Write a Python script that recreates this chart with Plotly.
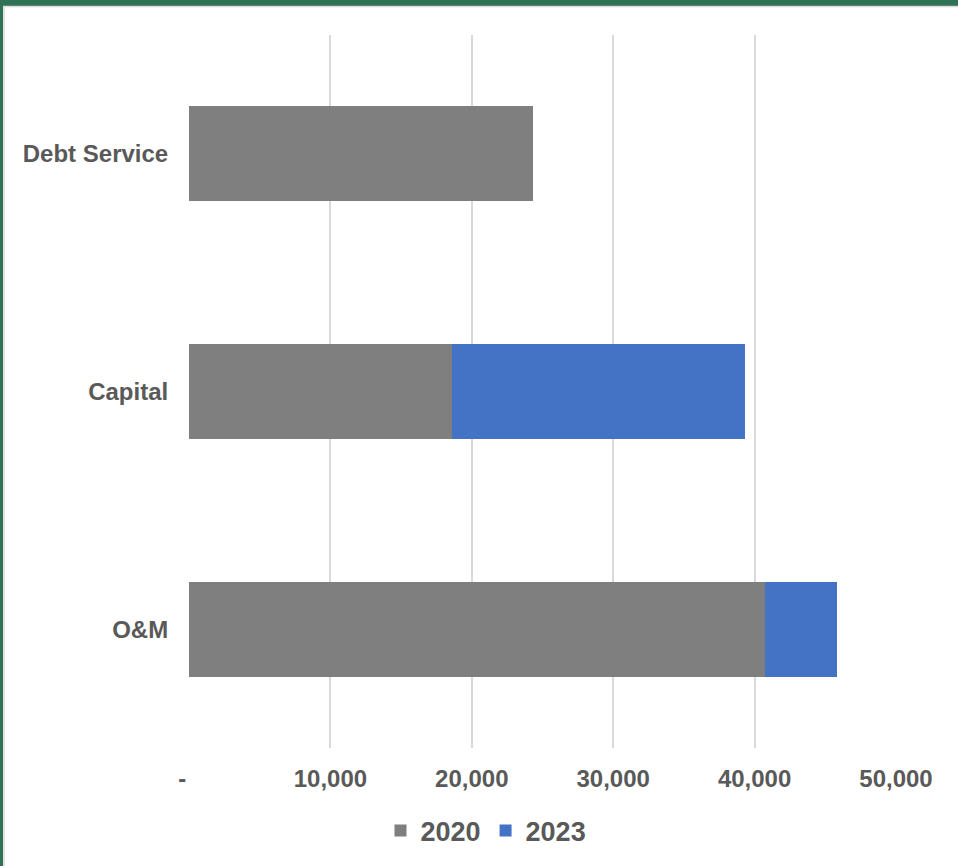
import plotly.graph_objects as go

categories = ['Debt Service', 'Capital', 'O&M']
values_2020 = [24300, 18600, 40750]
values_2023 = [0, 20750, 5080]
tick_vals = [0, 10000, 20000, 30000, 40000, 50000]
tick_text = ['-\u00a0\u00a0', '10,000', '20,000', '30,000', '40,000', '50,000']

W, H = 958, 866
L, R, T, B = 189, 62, 35, 117
TEXT = '#595959'
FONT = 'Arial, Liberation Sans, sans-serif'


def px_x(px):
    return (px - L) / (W - L - R)


def px_y(py):
    return (H - B - py) / (H - T - B)


fig = go.Figure()
fig.add_trace(go.Bar(y=categories, x=values_2020, orientation='h', name='2020',
                     marker=dict(color='#7F7F7F', line=dict(width=0))))
fig.add_trace(go.Bar(y=categories, x=values_2023, orientation='h', name='2023',
                     marker=dict(color='#4472C4', line=dict(width=0))))

# green window frame at top and left
fig.add_shape(type='rect', xref='paper', yref='paper', layer='above',
              x0=px_x(-5), x1=px_x(W + 5), y0=px_y(6), y1=px_y(-5),
              fillcolor='#2F7257', line=dict(width=0))
fig.add_shape(type='rect', xref='paper', yref='paper', layer='above',
              x0=px_x(-5), x1=px_x(3), y0=px_y(H + 5), y1=px_y(-5),
              fillcolor='#2F7257', line=dict(width=0))
fig.add_shape(type='line', xref='paper', yref='paper', layer='above',
              x0=px_x(3), x1=px_x(W + 5), y0=px_y(6.5), y1=px_y(6.5),
              line=dict(color='#DADADA', width=1.5))
fig.add_shape(type='line', xref='paper', yref='paper', layer='above',
              x0=px_x(4), x1=px_x(4), y0=px_y(H + 5), y1=px_y(6.5),
              line=dict(color='#E2E2E2', width=2))

fig.update_layout(
    width=W, height=H,
    margin=dict(l=L, r=R, t=T, b=B),
    barmode='stack',
    bargap=0.6,
    paper_bgcolor='white',
    plot_bgcolor='white',
    showlegend=True,
    legend=dict(orientation='h', x=px_x(486), xanchor='center',
                y=px_y(831), yanchor='middle',
                font=dict(family=FONT, size=27, color=TEXT, weight='bold'),
                itemwidth=30, traceorder='normal'),
    xaxis=dict(range=[0, 50000], tickvals=tick_vals, ticktext=tick_text,
               showgrid=True, gridcolor='#D9D9D9', gridwidth=2,
               zeroline=False, showline=False, ticks='outside', ticklen=0,
               ticklabelstandoff=9,
               tickfont=dict(family=FONT, size=24, color=TEXT, weight='bold')),
    yaxis=dict(categoryorder='array', categoryarray=categories, autorange='reversed',
               showgrid=False, zeroline=False, showline=False, ticks='outside', ticklen=0,
               ticklabelstandoff=15,
               tickfont=dict(family=FONT, size=24, color=TEXT, weight='bold')),
)

fig.write_html('out.html', config={'displayModeBar': False},
               post_script="document.body.style.margin='0';")
